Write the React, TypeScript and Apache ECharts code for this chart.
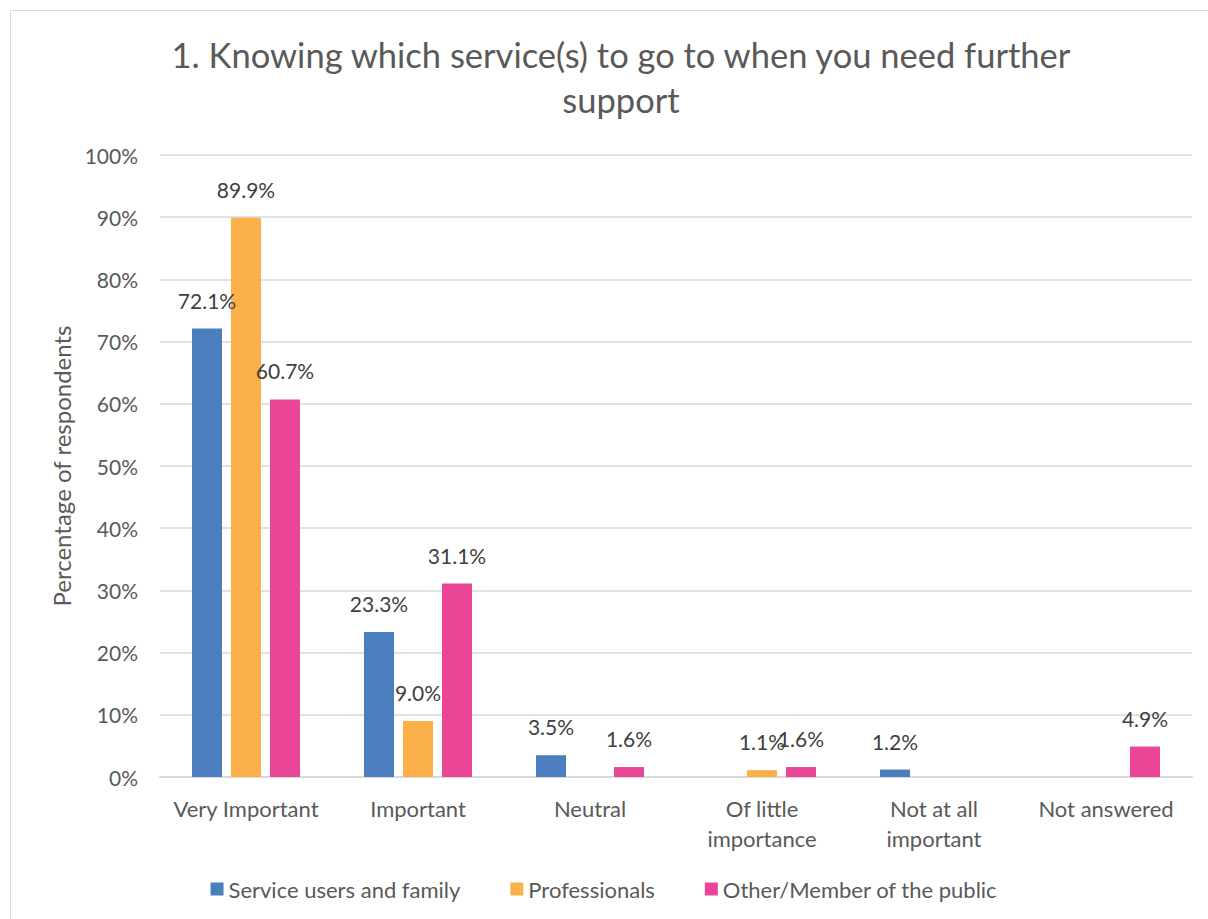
import React, { useEffect, useRef } from "react";
import * as echarts from "echarts";

const categories = [
  "Very Important",
  "Important",
  "Neutral",
  "Of little\nimportance",
  "Not at all\nimportant",
  "Not answered",
];
const serviceUsers = [72.1, 23.3, 3.5, 0, 1.2, 0];
const professionals = [89.9, 9.0, 0, 1.1, 0, 0];
const otherPublic = [60.7, 31.1, 1.6, 1.6, 0, 4.9];
const seriesNames = ["Service users and family", "Professionals", "Other/Member of the public"];
const colors = ["#4A7EBE", "#FBB04A", "#E94697"];
const titleText = "1. Knowing which service(s) to go to when you need further\nsupport";

const FONT = "Lato, 'Liberation Sans', sans-serif";

export default function App() {
  const ref = useRef<HTMLDivElement>(null);
  useEffect(() => {
    if (!ref.current) return;
    const chart = echarts.init(ref.current, null, { renderer: "svg" });
    const mk = (name: string, data: number[], color: string) => ({
      name,
      type: "bar",
      data,
      barWidth: 30,
      barGap: "30%",
      itemStyle: { color },
      label: {
        show: true,
        position: "top",
        distance: 18,
        fontFamily: FONT,
        fontSize: 21,
        color: "#404040",
        formatter: (p: any) => (p.value ? p.value.toFixed(1) + "%" : ""),
      },
    });
    chart.setOption({
      animation: false,
      backgroundColor: "#ffffff",
      textStyle: { fontFamily: FONT },
      title: {
        text: titleText,
        left: 616,
        textAlign: "center",
        top: 27,
        textStyle: {
          fontFamily: FONT,
          fontSize: 34.5,
          fontWeight: "normal",
          color: "#595959",
          lineHeight: 45,
        },
      },
      graphic: [
        {
          type: "rect",
          shape: { x: 10.5, y: 10.5, width: 1220, height: 940 },
          style: { fill: "none", stroke: "#D9D9D9", lineWidth: 1 },
          silent: true,
        },
      ],
      legend: {
        bottom: 14,
        left: "center",
        itemWidth: 13,
        itemHeight: 13,
        itemGap: 50,
        icon: "rect",
        textStyle: { fontFamily: FONT, fontSize: 22, color: "#595959" },
        data: seriesNames,
      },
      grid: { left: 160, right: 16, top: 155, bottom: 142 },
      xAxis: {
        type: "category",
        data: categories,
        axisLine: { lineStyle: { color: "#D9D9D9", width: 2 } },
        axisTick: { show: false },
        axisLabel: {
          interval: 0,
          fontFamily: FONT,
          fontSize: 22,
          color: "#595959",
          margin: 16,
          lineHeight: 30,
        },
      },
      yAxis: {
        type: "value",
        min: 0,
        max: 100,
        interval: 10,
        name: "Percentage of respondents",
        nameLocation: "middle",
        nameGap: 87,
        nameTextStyle: { fontFamily: FONT, fontSize: 24, color: "#595959" },
        axisLabel: {
          fontFamily: FONT,
          fontSize: 21,
          color: "#595959",
          margin: 22,
          formatter: "{value}%",
        },
        splitLine: { lineStyle: { color: "#D9D9D9", width: 1.5 } },
        axisLine: { show: false },
        axisTick: { show: false },
      },
      series: [
        mk(seriesNames[0], serviceUsers, colors[0]),
        mk(seriesNames[1], professionals, colors[1]),
        mk(seriesNames[2], otherPublic, colors[2]),
      ],
    });
    return () => chart.dispose();
  }, []);
  return (
    <div
      ref={ref}
      style={{ position: "absolute", left: 0, top: 0, width: 1208, height: 919 }}
    />
  );
}
